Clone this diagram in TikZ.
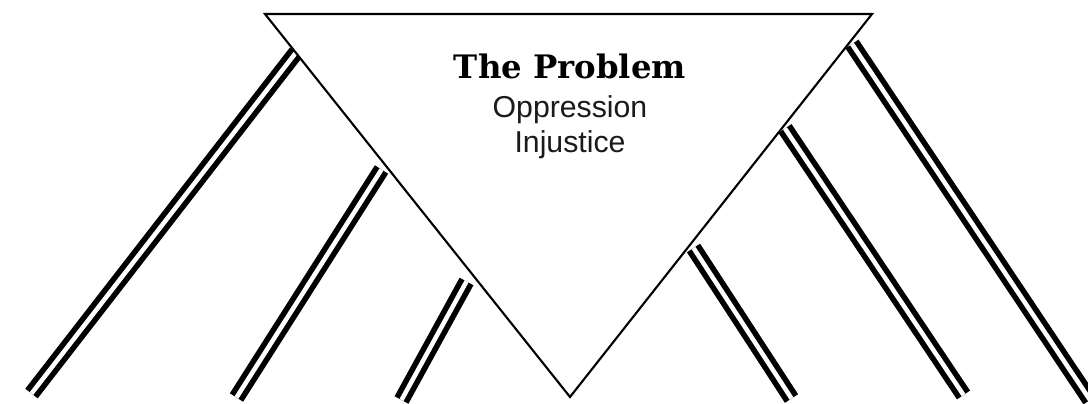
\documentclass[tikz,border=0pt]{standalone}
\usepackage{fontspec}
\usepackage{tikz}
\usetikzlibrary{positioning}
\newfontfamily\headfont{DejaVu Serif}
\newfontfamily\causefont{Liberation Sans}
\definecolor{InkMain}{HTML}{000000}
\definecolor{InkSoft}{HTML}{1A1A1A}

\tikzset{
    problemedge/.style={draw=InkMain, line width=1.5pt, line join=miter},
    rootpair/.style={draw=InkMain, double=white, double distance=3.2pt, line width=4pt, line cap=butt},
    headtext/.style={anchor=base, inner sep=0pt, font=\headfont\bfseries\fontsize{23}{28}\selectfont},
    causetext/.style={anchor=base, inner sep=0pt, text=InkSoft, font=\causefont\fontsize{21.5}{24}\selectfont}
}

\begin{document}
\begin{tikzpicture}[x=0.025cm, y=-0.025cm]
    \useasboundingbox (0,0) rectangle (1088,403);

    % corners of the problem triangle
    \coordinate (tri left)  at (265,14);
    \coordinate (tri right) at (872,14);
    \coordinate (tri tip)   at (570,397);

    % double roots, left side
    \coordinate (left big top)     at (296,52.5);
    \coordinate (left big foot)    at (31.5,393.5);
    \coordinate (left mid top)     at (381.5,169.5);
    \coordinate (left mid foot)    at (236.5,397.5);
    \coordinate (left small top)   at (466.5,281.5);
    \coordinate (left small foot)  at (401.5,400);
    % double roots, right side
    \coordinate (right small top)  at (693.5,248);
    \coordinate (right small foot) at (791.5,398.5);
    \coordinate (right mid top)    at (785,128.5);
    \coordinate (right mid foot)   at (963.5,395);
    \coordinate (right big top)    at (852,44);
    \coordinate (right big foot)   at (1090,400);

    \draw[rootpair] (left big top) -- (left big foot);
    \draw[rootpair] (left mid top) -- (left mid foot);
    \draw[rootpair] (left small top) -- (left small foot);
    \draw[rootpair] (right small top) -- (right small foot);
    \draw[rootpair] (right mid top) -- (right mid foot);
    \draw[rootpair] (right big top) -- (right big foot);

    \draw[problemedge, fill=white] (tri left) -- (tri right) -- (tri tip) -- cycle;

    \node[headtext]  (problem) at (570,78)  {The Problem};
    \node[causetext] (cause a) at (570,117) {Oppression};
    \node[causetext] (cause b) at (570,152) {Injustice};
\end{tikzpicture}
\end{document}
